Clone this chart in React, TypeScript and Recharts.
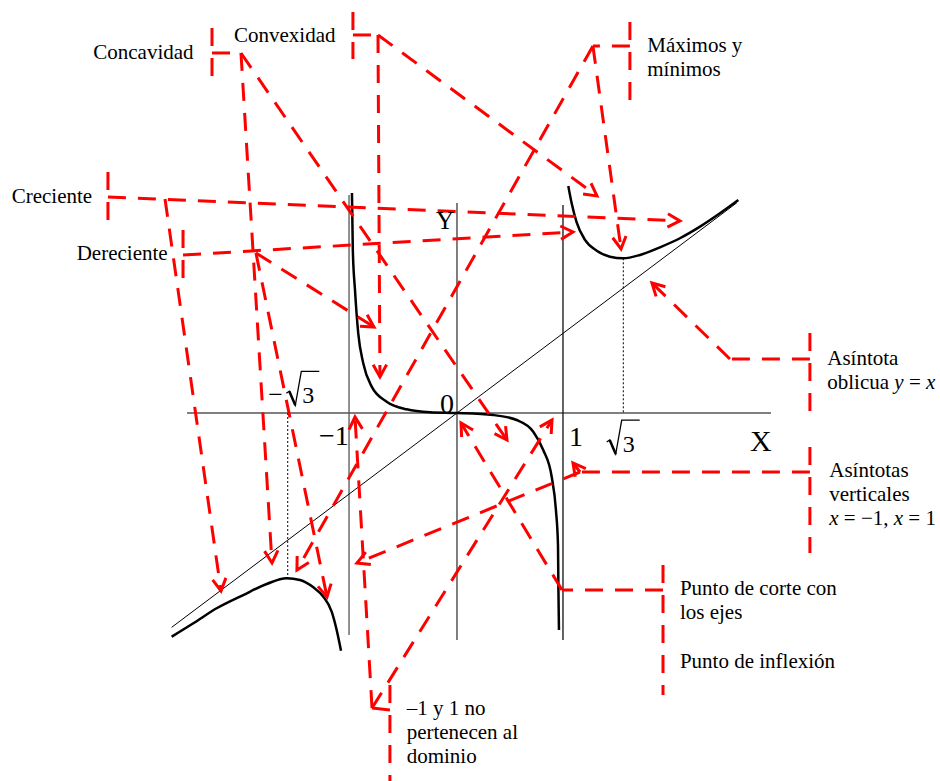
import { LineChart, Line, XAxis, YAxis, ReferenceLine, ReferenceDot } from 'recharts';

type Pt = { x: number; y: number };
type Seg = { from: [number, number]; to: [number, number]; arrow?: boolean };

// the three branches of the curve (graph units)
const leftBranch: Pt[] = [
  { x: -2.63, y: -2.745 }, { x: -2.43, y: -2.58 }, { x: -2.215, y: -2.396 },
  { x: -1.97, y: -2.233 }, { x: -1.754, y: -2.098 }, { x: -1.57, y: -2.028 },
  { x: -1.447, y: -2.049 }, { x: -1.324, y: -2.139 }, { x: -1.232, y: -2.254 },
  { x: -1.155, y: -2.438 }, { x: -1.109, y: -2.663 }, { x: -1.069, y: -2.917 },
];
const middleBranch: Pt[] = [
  { x: -0.968, y: 2.7 }, { x: -0.96, y: 2.0 }, { x: -0.94, y: 1.509 },
  { x: -0.91, y: 0.978 }, { x: -0.864, y: 0.61 }, { x: -0.786, y: 0.323 },
  { x: -0.648, y: 0.139 }, { x: -0.464, y: 0.045 }, { x: -0.249, y: 0.009 },
  { x: 0, y: 0 }, { x: 0.335, y: -0.025 }, { x: 0.55, y: -0.086 },
  { x: 0.703, y: -0.229 }, { x: 0.795, y: -0.454 }, { x: 0.873, y: -0.782 },
  { x: 0.912, y: -1.19 }, { x: 0.931, y: -1.62 }, { x: 0.935, y: -2.172 },
  { x: 0.94, y: -2.663 },
];
const rightBranch: Pt[] = [
  { x: 1.026, y: 2.785 }, { x: 1.057, y: 2.573 }, { x: 1.103, y: 2.34 },
  { x: 1.18, y: 2.123 }, { x: 1.288, y: 1.991 }, { x: 1.41, y: 1.918 },
  { x: 1.533, y: 1.898 }, { x: 1.687, y: 1.939 }, { x: 1.871, y: 2.033 },
  { x: 2.055, y: 2.144 }, { x: 2.24, y: 2.286 }, { x: 2.424, y: 2.45 },
  { x: 2.593, y: 2.613 },
];

// straight black lines
const xAxisLine: [number, number][] = [[-2.488, 0], [2.894, 0]];
const yAxisLine: [number, number][] = [[0, 2.577], [0, -2.785]];
const leftAsymptote: [number, number][] = [[-0.995, 2.675], [-0.995, -2.724]];
const rightAsymptote: [number, number][] = [[0.977, 2.552], [0.977, -2.785]];
const obliqueAsymptote: [number, number][] = [[-2.63, -2.63], [2.58, 2.58]];
const minGuide: [number, number][] = [[1.533, 1.898], [1.533, 0]];
const maxGuide: [number, number][] = [[-1.56, 0], [-1.56, -2.028]];

// red dashed pointers, grouped by note
const concavidadMarks: Seg[] = [
  { from: [-2.258, 4.724], to: [-2.258, 4.135] },
  { from: [-2.258, 4.417], to: [-1.991, 4.417] },
  { from: [-1.991, 4.417], to: [-1.705, -1.84], arrow: true },
  { from: [-1.991, 4.417], to: [0.461, -0.331], arrow: true },
];
const convexidadMarks: Seg[] = [
  { from: [-0.959, 4.92], to: [-0.959, 4.344] },
  { from: [-0.959, 4.638], to: [-0.728, 4.638] },
  { from: [-0.728, 4.638], to: [-0.71, 0.442], arrow: true },
  { from: [-0.728, 4.638], to: [1.29, 2.663], arrow: true },
];
const extremosMarks: Seg[] = [
  { from: [1.594, 4.798], to: [1.594, 3.84] },
  { from: [1.594, 4.503], to: [1.253, 4.503] },
  { from: [1.253, 4.503], to: [1.512, 2.012], arrow: true },
  { from: [1.253, 4.503], to: [-1.475, -1.926], arrow: true },
];
const crecienteMarks: Seg[] = [
  { from: [-3.217, 2.957], to: [-3.217, 2.368] },
  { from: [-3.217, 2.65], to: [2.055, 2.356], arrow: true },
  { from: [-2.691, 2.626], to: [-2.175, -2.184], arrow: true },
];
const decrecienteMarks: Seg[] = [
  { from: [-2.525, 2.245], to: [-2.525, 1.656] },
  { from: [-2.525, 1.939], to: [1.069, 2.221], arrow: true },
  { from: [-1.853, 1.963], to: [-0.765, 1.055], arrow: true },
  { from: [-1.853, 1.963], to: [-1.198, -2.258], arrow: true },
];
const oblicuaMarks: Seg[] = [
  { from: [3.253, 0.982], to: [3.253, 0] },
  { from: [3.253, 0.663], to: [2.516, 0.663] },
  { from: [2.516, 0.663], to: [1.797, 1.595], arrow: true },
];
const verticalesMarks: Seg[] = [
  { from: [3.253, -0.417], to: [3.253, -1.718] },
  { from: [3.253, -0.724], to: [1.134, -0.724] },
  { from: [1.134, -0.724], to: [1.069, -0.613], arrow: true },
  { from: [1.134, -0.724], to: [-0.922, -1.84], arrow: true },
];
const corteMarks: Seg[] = [
  { from: [1.899, -1.865], to: [1.899, -3.46] },
  { from: [1.899, -2.172], to: [0.968, -2.172] },
  { from: [0.968, -2.172], to: [0.037, -0.123], arrow: true },
];
const dominioMarks: Seg[] = [
  { from: [-0.618, -3.337], to: [-0.618, -4.515] },
  { from: [-0.618, -3.644], to: [-0.783, -3.62] },
  { from: [-0.783, -3.62], to: [-0.94, -0.049], arrow: true },
  { from: [-0.783, -3.62], to: [0.876, -0.086], arrow: true },
];

// notes (left edge, first baseline) and their text lines
const notes = [
  { x: -3.352, y: 4.34, lines: ['Concavidad'] },
  { x: -2.055, y: 4.556, lines: ['Convexidad'] },
  { x: 1.754, y: 4.429, lines: ['Máximos y', 'mínimos'] },
  { x: -4.104, y: 2.58, lines: ['Creciente'] },
  { x: -3.505, y: 1.877, lines: ['Dereciente'] },
  { x: 3.413, y: 0.589, lines: ['Asíntota', 'oblicua |y| = |x|'] },
  { x: 3.431, y: -0.782, lines: ['Asíntotas', 'verticales', '|x| = −1, |x| = 1'] },
  { x: 2.055, y: -2.233, lines: ['Punto de corte con', 'los ejes'] },
  { x: 2.055, y: -3.132, lines: ['Punto de inflexión'] },
  { x: -0.464, y: -3.706, lines: ['–1 y 1 no', 'pertenecen al', 'dominio'] },
];

// axis names and marked values
const axisNames = [
  { x: -0.194, y: 2.258, text: 'Y', size: 25 },
  { x: 2.7, y: -0.466, text: 'X', size: 30 },
];
const tickValues = [
  { x: -0.157, y: 0, text: '0' },
  { x: -1.272, y: -0.393, text: '−1' },
  { x: 1.032, y: -0.405, text: '1' },
];
const rootTicks = [
  { x: 1.38, y: -0.479, neg: false },
  { x: -1.739, y: 0.119, neg: true },
];

const SERIF = "'Liberation Serif', 'Times New Roman', serif";
const RED = '#ff0000';

const allMarks: Seg[] = [
  ...concavidadMarks, ...convexidadMarks, ...extremosMarks, ...crecienteMarks,
  ...decrecienteMarks, ...oblicuaMarks, ...verticalesMarks, ...corteMarks, ...dominioMarks,
];

const redLine = (arrow?: boolean) => (p: any) => {
  const { x1, y1, x2, y2 } = p;
  const a = Math.atan2(y2 - y1, x2 - x1);
  const len = 14;
  const s = 0.5;
  const head = `M${x2 - len * Math.cos(a - s)},${y2 - len * Math.sin(a - s)} L${x2},${y2} L${x2 - len * Math.cos(a + s)},${y2 - len * Math.sin(a + s)}`;
  return (
    <g>
      <line x1={x1} y1={y1} x2={x2} y2={y2} stroke={RED} strokeWidth={3} strokeDasharray="18 12" />
      {arrow && <path d={head} fill="none" stroke={RED} strokeWidth={3} />}
    </g>
  );
};

// "|x|" parts are set in italics
const richLine = (line: string) =>
  line.split('|').map((part, i) => (
    <tspan key={i} fontStyle={i % 2 ? 'italic' : 'normal'}>{part}</tspan>
  ));

function blackSeg(seg: [number, number][], stroke: string, width: number, dash?: string, key?: string) {
  return (
    <ReferenceLine
      key={key}
      segment={[{ x: seg[0][0], y: seg[0][1] }, { x: seg[1][0], y: seg[1][1] }]}
      stroke={stroke}
      strokeWidth={width}
      strokeDasharray={dash}
      ifOverflow="visible"
    />
  );
}

export default function App() {
  return (
    <div style={{ position: 'absolute', left: 0, top: 0, background: '#fff' }}>
      <LineChart width={940} height={781} margin={{ top: 0, right: 0, bottom: 0, left: 0 }}>
        <XAxis type="number" dataKey="x" domain={[-4.212, 4.452]} allowDataOverflow hide />
        <YAxis type="number" dataKey="y" domain={[-4.515, 5.067]} allowDataOverflow hide />

        {blackSeg(xAxisLine, '#555', 1.5, undefined, 'xa')}
        {blackSeg(yAxisLine, '#555', 1.5, undefined, 'ya')}
        {blackSeg(leftAsymptote, '#555', 1.3, undefined, 'la')}
        {blackSeg(rightAsymptote, '#111', 1.3, undefined, 'ra')}
        {blackSeg(obliqueAsymptote, '#000', 1, undefined, 'ob')}
        {blackSeg(minGuide, '#000', 1, '2 2', 'mg')}
        {blackSeg(maxGuide, '#000', 1, '2 2', 'xg')}

        <Line data={leftBranch} dataKey="y" type="monotone" stroke="#000" strokeWidth={2.5} dot={false} activeDot={false} isAnimationActive={false} />
        <Line data={middleBranch} dataKey="y" type="monotone" stroke="#000" strokeWidth={2.5} dot={false} activeDot={false} isAnimationActive={false} />
        <Line data={rightBranch} dataKey="y" type="monotone" stroke="#000" strokeWidth={2.5} dot={false} activeDot={false} isAnimationActive={false} />

        {allMarks.map((m, i) => (
          <ReferenceLine
            key={'m' + i}
            segment={[{ x: m.from[0], y: m.from[1] }, { x: m.to[0], y: m.to[1] }]}
            ifOverflow="visible"
            shape={redLine(m.arrow)}
          />
        ))}

        {notes.map((n, i) => (
          <ReferenceDot
            key={'n' + i}
            x={n.x}
            y={n.y}
            r={0}
            ifOverflow="visible"
            shape={(p: any) => (
              <text x={p.cx} y={p.cy} fontFamily={SERIF} fontSize={21} fill="#000">
                {n.lines.map((l, j) => (
                  <tspan key={j} x={p.cx} dy={j === 0 ? 0 : 24}>{richLine(l)}</tspan>
                ))}
              </text>
            )}
          />
        ))}

        {axisNames.map((a, i) => (
          <ReferenceDot
            key={'a' + i}
            x={a.x}
            y={a.y}
            r={0}
            ifOverflow="visible"
            shape={(p: any) => (
              <text x={p.cx} y={p.cy} fontFamily={SERIF} fontSize={a.size} fill="#000">{a.text}</text>
            )}
          />
        ))}

        {tickValues.map((t, i) => (
          <ReferenceDot
            key={'t' + i}
            x={t.x}
            y={t.y}
            r={0}
            ifOverflow="visible"
            shape={(p: any) => (
              <text x={p.cx} y={p.cy} fontFamily={SERIF} fontSize={28} fill="#000">{t.text}</text>
            )}
          />
        ))}

        {rootTicks.map((t, i) => (
          <ReferenceDot
            key={'r' + i}
            x={t.x}
            y={t.y}
            r={0}
            ifOverflow="visible"
            shape={(p: any) => {
              const x0 = p.cx + (t.neg ? 18 : 0);
              const y0 = p.cy;
              return (
                <g>
                  {t.neg && (
                    <text x={p.cx} y={y0} fontFamily={SERIF} fontSize={26} fill="#000">−</text>
                  )}
                  <path
                    d={`M${x0},${y0 - 10} L${x0 + 3},${y0 - 12} L${x0 + 9},${y0 + 2} L${x0 + 15},${y0 - 32} L${x0 + 33},${y0 - 32}`}
                    fill="none"
                    stroke="#000"
                    strokeWidth={1.3}
                  />
                  <line x1={x0 + 3} y1={y0 - 12} x2={x0 + 9} y2={y0 + 2} stroke="#000" strokeWidth={2.5} />
                  <text x={x0 + 16} y={y0} fontFamily={SERIF} fontSize={24} fill="#000">3</text>
                </g>
              );
            }}
          />
        ))}
      </LineChart>
    </div>
  );
}
